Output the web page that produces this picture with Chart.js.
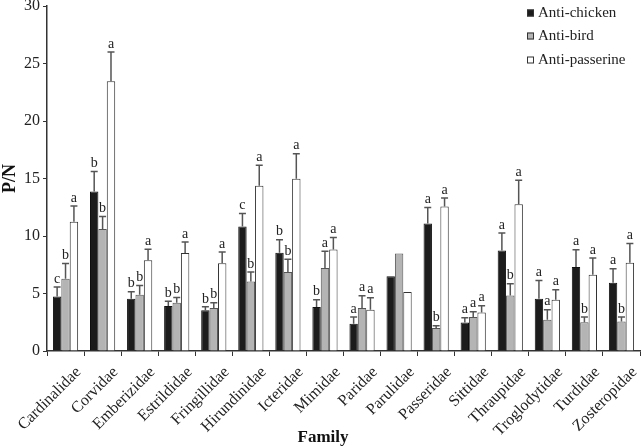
<!DOCTYPE html>
<html>
<head>
<meta charset="utf-8">
<script src="https://cdn.jsdelivr.net/npm/chart.js@4.4.0/dist/chart.umd.min.js"></script>
<style>
  html, body { margin: 0; padding: 0; background: #fff; }
  #wrap { width: 642px; height: 447px; position: relative; }
</style>
</head>
<body>
<div id="wrap"><canvas id="chart"></canvas></div>
<script>
const families = ["Cardinalidae", "Corvidae", "Emberizidae", "Estrildidae", "Fringillidae",
  "Hirundinidae", "Icteridae", "Mimidae", "Paridae", "Parulidae", "Passeridae",
  "Sittidae", "Thraupidae", "Troglodytidae", "Turdidae", "Zosteropidae"];

// mean P/N per family
const antiChicken   = [4.75, 13.87, 4.55, 3.92, 3.55, 10.83, 8.55, 3.82, 2.37, 6.49, 11.08, 2.48, 8.75, 4.55, 7.30, 5.94];
const antiBird      = [6.28, 10.60, 4.90, 4.19, 3.75, 6.05, 6.87, 7.21, 3.73, 8.47, 1.99, 2.95, 4.83, 2.72, 2.51, 2.57];
const antiPasserine = [11.25, 23.46, 7.90, 8.52, 7.62, 14.36, 14.97, 8.82, 3.59, 5.12, 12.56, 3.35, 12.76, 4.46, 6.63, 7.68];

// top of the error bar (mean + SE)
const chickenErr   = [5.56, 15.6, 5.15, 4.33, 3.84, 11.95, 9.68, 4.46, 2.95, null, 12.47, 2.89, 10.26, 6.14, 8.81, 7.16];
const birdErr      = [7.6, 11.7, 5.7, 4.65, 4.19, 6.87, 7.97, 8.67, 4.8, null, 2.19, 3.41, 5.85, 3.59, 2.95, 2.95];
const passerineErr = [12.6, 25.99, 8.84, 9.48, 8.6, 16.16, 17.15, 9.86, 4.63, null, 13.3, 3.93, 14.85, 5.33, 8.09, 9.34];

// significance letters
const chickenLetters   = ["c", "b", "b", "b", "b", "c", "b", "b", "a", "", "a", "a", "a", "a", "a", "a"];
const birdLetters      = ["b", "b", "b", "b", "b", "b", "b", "a", "a", "", "b", "a", "b", "a", "b", "b"];
const passerineLetters = ["a", "a", "a", "a", "a", "a", "a", "a", "a", "", "a", "a", "a", "a", "a", "a"];

const yTicks = [0, 5, 10, 15, 20, 25, 30];

const serif = "'Liberation Serif', 'DejaVu Serif', serif";
const errs = [chickenErr, birdErr, passerineErr];
const letters = [chickenLetters, birdLetters, passerineLetters];

// error bars + letters + legend + x title
const extras = {
  id: "extras",
  afterDatasetsDraw(chart) {
    const { ctx, scales: { y } } = chart;
    ctx.save();
    chart.data.datasets.forEach((ds, di) => {
      const meta = chart.getDatasetMeta(di);
      meta.data.forEach((bar, i) => {
        const e = errs[di][i];
        if (e == null) return;
        const yt = y.getPixelForValue(e);
        ctx.strokeStyle = "#555";
        ctx.lineWidth = 1.5;
        ctx.beginPath();
        ctx.moveTo(bar.x, bar.y);
        ctx.lineTo(bar.x, yt);
        ctx.moveTo(bar.x - 3.5, yt);
        ctx.lineTo(bar.x + 3.5, yt);
        ctx.stroke();
        const l = letters[di][i];
        if (l) {
          ctx.fillStyle = "#222";
          ctx.font = "14px " + serif;
          ctx.textAlign = "center";
          ctx.textBaseline = "bottom";
          ctx.fillText(l, bar.x, yt - 1);
        }
      });
    });

    // legend
    const lx = 527, rows = [13, 36, 60];
    ctx.font = "15px " + serif;
    ctx.textAlign = "left";
    ctx.textBaseline = "middle";
    chart.data.datasets.forEach((ds, di) => {
      ctx.fillStyle = ds.backgroundColor;
      ctx.fillRect(lx, rows[di] - 3.5, 7, 7);
      ctx.strokeStyle = "#333";
      ctx.lineWidth = 1;
      ctx.strokeRect(lx + 0.5, rows[di] - 3, 6, 6);
      ctx.fillStyle = "#222";
      ctx.fillText(ds.label, lx + 11, rows[di]);
    });

    // x axis title
    ctx.font = "bold 17px " + serif;
    ctx.textAlign = "center";
    ctx.textBaseline = "alphabetic";
    ctx.fillStyle = "#111";
    ctx.fillText("Family", 323, 442);
    ctx.restore();
  }
};

new Chart(document.getElementById("chart").getContext("2d"), {
  type: "bar",
  data: {
    labels: families,
    datasets: [
      { label: "Anti-chicken", data: antiChicken, backgroundColor: "#1c1c1c", borderColor: "#111", borderWidth: 1 },
      { label: "Anti-bird", data: antiBird, backgroundColor: "#b4b4b4", borderColor: "#555", borderWidth: 1 },
      { label: "Anti-passerine", data: antiPasserine, backgroundColor: "#ffffff", borderColor: "#333", borderWidth: 1 }
    ]
  },
  options: {
    responsive: true,
    maintainAspectRatio: false,
    animation: false,
    layout: { padding: { top: 6, right: 2, left: 0, bottom: 0 } },
    datasets: { bar: { categoryPercentage: 0.68, barPercentage: 1.0 } },
    plugins: {
      legend: { display: false },
      tooltip: { enabled: false }
    },
    scales: {
      x: {
        grid: { display: true, drawOnChartArea: false, drawTicks: true, tickLength: 5, offset: true, color: "#333" },
        border: { color: "#333", width: 1.5 },
        ticks: {
          color: "#222",
          font: { family: serif, size: 16 },
          minRotation: 45,
          maxRotation: 45,
          padding: 7,
          labelOffset: 13
        },
        title: { display: false },
        afterFit(scale) { scale.height = 96; scale.paddingLeft = 0; scale.paddingRight = 0; }
      },
      y: {
        min: 0,
        max: 30,
        afterBuildTicks(scale) { scale.ticks = yTicks.map(v => ({ value: v })); },
        grid: { display: true, drawOnChartArea: false, drawTicks: true, tickLength: 4, color: "#333" },
        border: { color: "#333", width: 1.5 },
        ticks: {
          color: "#222",
          font: { family: serif, size: 16 },
          padding: 3
        },
        title: {
          display: true,
          text: "P/N",
          color: "#111",
          font: { family: serif, size: 18, weight: "bold" },
          padding: { top: 0, bottom: 2 }
        },
        afterFit(scale) { scale.width = 47; scale.paddingTop = 0; scale.paddingBottom = 0; }
      }
    }
  },
  plugins: [extras]
});
</script>
</body>
</html>
